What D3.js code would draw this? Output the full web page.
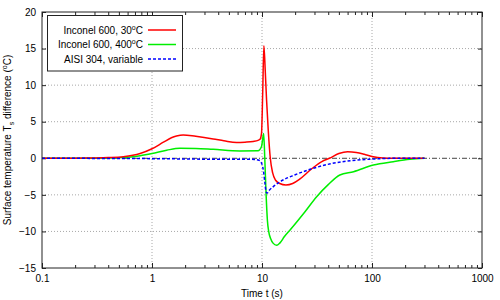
<!DOCTYPE html>
<html><head><meta charset="utf-8">
<script src="https://cdn.jsdelivr.net/npm/d3@7"></script>
<style>
body{margin:0;background:#fff;}
svg{display:block;font-family:"Liberation Sans",Arial,sans-serif;}
</style></head>
<body><svg id="c" width="500" height="300"></svg>
<script>
// ---- data ----
const xTicks = [0.1, 1, 10, 100, 1000];
const xTickLabels = ["0.1", "1", "10", "100", "1000"];
const yTicks = [-15, -10, -5, 0, 5, 10, 15, 20];
const seriesNames = ["Inconel 600, 30", "Inconel 600, 400", "AISI 304, variable"];

const redT = [0.1,0.2,0.3,0.4,0.55,0.78,1.0,1.27,1.5,1.67,1.92,2.5,3.6,4.5,5.87,7,8.3,9.2,9.6,9.9,10.15,10.4,10.7,11.0,11.4,11.9,12.5,13.3,14.5,16.5,19,22,28,35,41,50,60,72,85,100,125,150,200,300];
const redY = [0,0.02,0.05,0.1,0.22,0.65,1.3,2.2,2.8,3.05,3.2,3.0,2.65,2.4,2.15,2.2,2.3,2.45,2.6,3.4,9,15.4,12,8,3.8,0,-2,-3,-3.45,-3.65,-3.45,-2.85,-1.5,-0.45,0,0.65,0.9,0.8,0.55,0.25,0.04,0.01,0,0];

const greenT = [0.1,0.3,0.55,0.78,1.0,1.36,1.79,2.5,3.6,6.3,9.2,9.9,10.35,10.6,10.9,11.2,11.5,12,12.6,13.6,14.5,16,18,24.6,31.4,40,51,68,103,156,221,300];
const greenY = [0,0.02,0.1,0.35,0.65,1.1,1.37,1.35,1.22,1.0,1.02,1.6,3.4,0,-5,-8.5,-10,-11,-11.6,-11.9,-11.6,-10.7,-9.8,-7.3,-5.25,-3.6,-2.28,-1.83,-0.92,-0.46,-0.14,0];

const blueT = [0.1,1,3,8.5,9.5,10.0,10.3,10.6,10.9,11.15,11.6,12.6,15,19.8,28,42,64,103,170,300];
const blueY = [0,-0.05,-0.12,-0.15,-0.3,-0.8,-1.7,-3.2,-4.6,-4.75,-4.4,-3.9,-3.1,-2.28,-1.46,-0.75,-0.33,-0.1,0,0];

const colors = ["#ff0000", "#00ee00", "#0000ff"];

// ---- chart ----
const svg = d3.select("#c");
const L = 42, R = 482, T = 12, B = 268;
const x = d3.scaleLog().domain([0.1, 1000]).range([L, R]);
const y = d3.scaleLinear().domain([-15, 20]).range([B, T]);

// grid
const g = svg.append("g");
g.selectAll("line.vg").data(xTicks.slice(1, -1)).join("line")
  .attr("x1", d => x(d)).attr("x2", d => x(d)).attr("y1", T).attr("y2", B)
  .attr("stroke", "#a8a8a8").attr("stroke-width", 1).attr("stroke-dasharray", "1,2");
g.selectAll("line.hg").data(yTicks.filter(v => v !== 0 && v !== -15 && v !== 20)).join("line")
  .attr("x1", L).attr("x2", R).attr("y1", d => y(d)).attr("y2", d => y(d))
  .attr("stroke", "#a8a8a8").attr("stroke-width", 1).attr("stroke-dasharray", "1,2");
// zero axis dash-dot
g.append("line").attr("x1", L).attr("x2", R).attr("y1", y(0)).attr("y2", y(0))
  .attr("stroke", "#444").attr("stroke-width", 1).attr("stroke-dasharray", "5,2,1,2");

// axes
const minor = x.ticks().filter(v => !xTicks.includes(v));
function styleAxis(sel) {
  sel.select(".domain").remove();
  sel.selectAll("line").attr("stroke", "#222");
  sel.selectAll("text").attr("fill", "#000").style("font-size", "10px")
    .style("font-family", "'Liberation Sans',Arial,sans-serif");
}
svg.append("g").attr("transform", `translate(0,${B})`)
  .call(d3.axisBottom(x).tickValues(xTicks).tickFormat((d, i) => xTickLabels[i]).tickSize(-5).tickPadding(7))
  .call(styleAxis);
svg.append("g").attr("transform", `translate(0,${B})`)
  .call(d3.axisBottom(x).tickValues(minor).tickFormat("").tickSize(-3)).call(styleAxis);
svg.append("g").attr("transform", `translate(0,${T})`)
  .call(d3.axisTop(x).tickValues(xTicks).tickFormat("").tickSize(-5)).call(styleAxis);
svg.append("g").attr("transform", `translate(0,${T})`)
  .call(d3.axisTop(x).tickValues(minor).tickFormat("").tickSize(-3)).call(styleAxis);
svg.append("g").attr("transform", `translate(${L},0)`)
  .call(d3.axisLeft(y).tickValues(yTicks).tickSize(-4).tickPadding(6)).call(styleAxis);
svg.append("g").attr("transform", `translate(${R},0)`)
  .call(d3.axisRight(y).tickValues(yTicks).tickFormat("").tickSize(-4)).call(styleAxis);

// curves
const line = d3.line().x(d => x(d[0])).y(d => y(d[1])).curve(d3.curveMonotoneX);
const zip = (a, b) => a.map((v, i) => [v, b[i]]);
const clip = svg.append("clipPath").attr("id", "pc").append("rect")
  .attr("x", L).attr("y", T).attr("width", R - L).attr("height", B - T);
const plot = svg.append("g").attr("clip-path", "url(#pc)");
plot.append("path").datum(zip(greenT, greenY)).attr("d", line)
  .attr("fill", "none").attr("stroke", colors[1]).attr("stroke-width", 1.5);
plot.append("path").datum(zip(redT, redY)).attr("d", line)
  .attr("fill", "none").attr("stroke", colors[0]).attr("stroke-width", 1.5);
plot.append("path").datum(zip(blueT, blueY)).attr("d", line)
  .attr("fill", "none").attr("stroke", colors[2]).attr("stroke-width", 1.5).attr("stroke-dasharray", "3,2");

// border
svg.append("rect").attr("x", L).attr("y", T).attr("width", R - L).attr("height", B - T)
  .attr("fill", "none").attr("stroke", "#222").attr("stroke-width", 1);

// legend
const lg = svg.append("g");
lg.append("rect").attr("x", 47.5).attr("y", 15.5).attr("width", 135).attr("height", 55.5)
  .attr("fill", "#fff").attr("stroke", "#222").attr("stroke-width", 1);
const rowsY = [30, 44.5, 59];
seriesNames.forEach((nm, i) => {
  const t = lg.append("text").attr("x", 143).attr("y", rowsY[i] + 3.5).attr("text-anchor", "end")
    .style("font-size", "10px").attr("fill", "#000");
  if (i < 2) {
    t.append("tspan").text(nm);
    t.append("tspan").attr("dy", -4).style("font-size", "7px").text("o");
    t.append("tspan").attr("dy", 4).text("C");
  } else {
    t.text(nm);
  }
  lg.append("line").attr("x1", 148).attr("x2", 176).attr("y1", rowsY[i]).attr("y2", rowsY[i])
    .attr("stroke", colors[i]).attr("stroke-width", 1.5)
    .attr("stroke-dasharray", i === 2 ? "3,2" : null);
});

// axis titles
svg.append("text").attr("x", (L + R) / 2).attr("y", 297).attr("text-anchor", "middle")
  .style("font-size", "10px").text("Time t (s)");
const yl = svg.append("text").attr("transform", `translate(11,${(T + B) / 2}) rotate(-90)`)
  .attr("text-anchor", "middle").style("font-size", "10px");
yl.append("tspan").text("Surface temperature T");
yl.append("tspan").attr("dy", 2.5).style("font-size", "7px").text("s");
yl.append("tspan").attr("dy", -2.5).text(" difference (");
yl.append("tspan").attr("dy", -4).style("font-size", "7px").text("o");
yl.append("tspan").attr("dy", 4).text("C)");
</script></body></html>
